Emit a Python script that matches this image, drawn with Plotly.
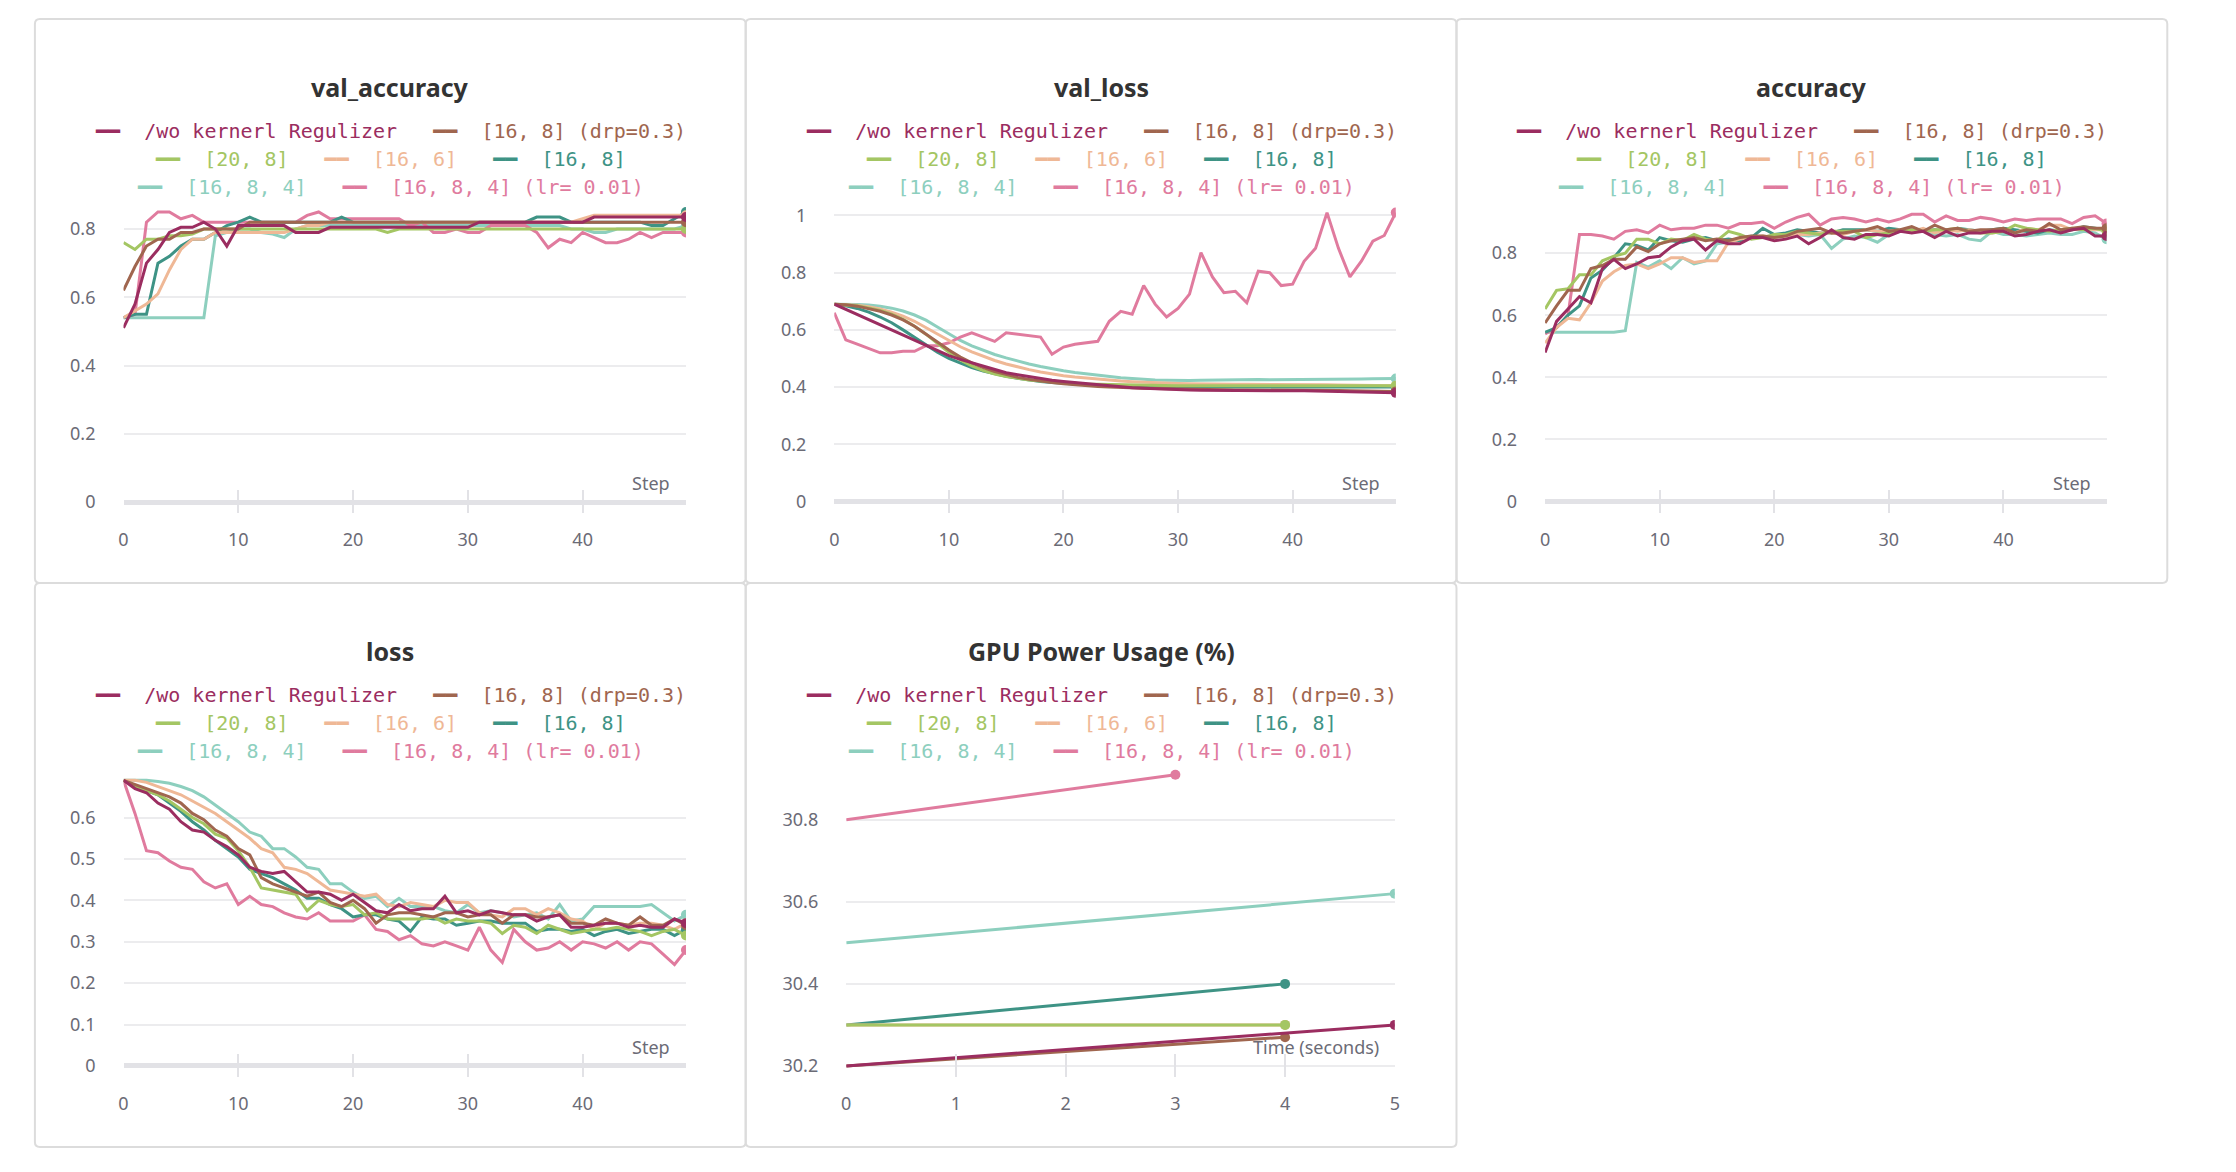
import plotly.graph_objects as go

# page body has an 8px margin, so the figure starts at (8, 8) of the window
OFF = 8
W, H = 2236 - OFF, 1172 - OFF

# ---- runs ----
names = ["/wo kernerl Regulizer", "[16, 8] (drp=0.3)", "[20, 8]", "[16, 6]",
         "[16, 8]", "[16, 8, 4]", "[16, 8, 4] (lr= 0.01)"]
colors = ["#9b2d60", "#a0664f", "#a4c663", "#efb896", "#3e9385", "#8dcfbe", "#e07b9e"]

steps = list(range(50))

# ---- val_accuracy ----
va_wo = [0.51, 0.58, 0.70, 0.74, 0.79, 0.805, 0.805, 0.82, 0.80, 0.75,
         0.81, 0.81, 0.81, 0.81, 0.81, 0.79, 0.79, 0.79, 0.805, 0.805,
         0.805, 0.805, 0.805, 0.805, 0.805, 0.805, 0.805, 0.805, 0.805, 0.805,
         0.805, 0.82, 0.82, 0.82, 0.82, 0.82, 0.82, 0.82, 0.82, 0.82,
         0.82, 0.835, 0.835, 0.835, 0.835, 0.835, 0.835, 0.835, 0.835, 0.835]
va_drp = [0.62, 0.69, 0.75, 0.77, 0.77, 0.79, 0.79, 0.80, 0.80, 0.80,
          0.80, 0.82, 0.82, 0.82, 0.82, 0.82, 0.82, 0.82, 0.82, 0.82,
          0.82, 0.82, 0.82, 0.82, 0.82, 0.82, 0.82, 0.82, 0.82, 0.82,
          0.82, 0.82, 0.82, 0.82, 0.82, 0.82, 0.82, 0.82, 0.82, 0.82,
          0.82, 0.82, 0.82, 0.82, 0.82, 0.82, 0.82, 0.82, 0.82, 0.82]
va_20_8 = [0.76, 0.74, 0.77, 0.77, 0.78, 0.78, 0.785, 0.80, 0.80, 0.80,
           0.80, 0.80, 0.80, 0.80, 0.80, 0.80, 0.80, 0.80, 0.80, 0.80,
           0.80, 0.80, 0.80, 0.79, 0.80, 0.80, 0.80, 0.80, 0.80, 0.80,
           0.80, 0.80, 0.80, 0.80, 0.80, 0.80, 0.80, 0.80, 0.80, 0.80,
           0.80, 0.80, 0.80, 0.80, 0.80, 0.80, 0.80, 0.80, 0.80, 0.80]
va_16_6 = [0.54, 0.56, 0.58, 0.61, 0.68, 0.74, 0.77, 0.77, 0.79, 0.79,
           0.79, 0.79, 0.79, 0.79, 0.79, 0.80, 0.81, 0.81, 0.82, 0.82,
           0.82, 0.82, 0.82, 0.82, 0.82, 0.82, 0.82, 0.82, 0.82, 0.82,
           0.82, 0.82, 0.82, 0.82, 0.82, 0.82, 0.82, 0.82, 0.82, 0.82,
           0.83, 0.84, 0.84, 0.84, 0.84, 0.84, 0.84, 0.84, 0.84, 0.84]
va_16_8 = [0.54, 0.55, 0.55, 0.70, 0.72, 0.75, 0.77, 0.77, 0.79, 0.81,
           0.82, 0.835, 0.82, 0.82, 0.82, 0.82, 0.82, 0.82, 0.82, 0.835,
           0.82, 0.82, 0.82, 0.82, 0.82, 0.82, 0.82, 0.82, 0.82, 0.82,
           0.82, 0.82, 0.82, 0.82, 0.82, 0.82, 0.835, 0.835, 0.835, 0.82,
           0.82, 0.82, 0.82, 0.82, 0.82, 0.82, 0.81, 0.81, 0.83, 0.85]
va_16_8_4 = [0.54, 0.54, 0.54, 0.54, 0.54, 0.54, 0.54, 0.54, 0.78, 0.79,
             0.80, 0.80, 0.79, 0.785, 0.775, 0.80, 0.81, 0.81, 0.81, 0.81,
             0.81, 0.81, 0.81, 0.81, 0.81, 0.81, 0.81, 0.81, 0.81, 0.81,
             0.81, 0.81, 0.81, 0.81, 0.81, 0.81, 0.81, 0.81, 0.81, 0.80,
             0.80, 0.79, 0.79, 0.80, 0.80, 0.80, 0.80, 0.80, 0.80, 0.81]
va_lr = [0.54, 0.55, 0.82, 0.85, 0.85, 0.83, 0.84, 0.82, 0.82, 0.82,
         0.82, 0.82, 0.82, 0.82, 0.82, 0.82, 0.84, 0.85, 0.83, 0.83,
         0.83, 0.83, 0.83, 0.83, 0.83, 0.81, 0.82, 0.79, 0.79, 0.80,
         0.79, 0.79, 0.81, 0.81, 0.81, 0.81, 0.79, 0.745, 0.77, 0.76,
         0.79, 0.775, 0.76, 0.76, 0.77, 0.79, 0.775, 0.79, 0.79, 0.79]

# ---- val_loss ----
vl_wo = [0.69, 0.672, 0.654, 0.636, 0.618, 0.60, 0.582, 0.564, 0.546, 0.528,
         0.51, 0.497, 0.485, 0.473, 0.461, 0.45, 0.443, 0.436, 0.429, 0.424,
         0.42, 0.416, 0.412, 0.408, 0.404, 0.40, 0.398, 0.396, 0.394, 0.392,
         0.39, 0.39, 0.389, 0.389, 0.389, 0.388, 0.388, 0.388, 0.388, 0.388,
         0.388, 0.387, 0.386, 0.385, 0.384, 0.383, 0.382, 0.381, 0.381, 0.38]
vl_drp = [0.69, 0.688, 0.683, 0.675, 0.665, 0.652, 0.635, 0.613, 0.587, 0.558,
          0.53, 0.505, 0.485, 0.468, 0.454, 0.443, 0.434, 0.427, 0.421, 0.416,
          0.412, 0.408, 0.405, 0.402, 0.40, 0.398, 0.397, 0.396, 0.395, 0.394,
          0.393, 0.392, 0.392, 0.391, 0.391, 0.39, 0.39, 0.39, 0.39, 0.39,
          0.389, 0.389, 0.388, 0.388, 0.388, 0.387, 0.387, 0.386, 0.386, 0.385]
vl_20_8 = [0.69, 0.688, 0.684, 0.677, 0.668, 0.655, 0.637, 0.613, 0.585, 0.553,
           0.522, 0.495, 0.474, 0.458, 0.446, 0.437, 0.43, 0.425, 0.421, 0.418,
           0.415, 0.413, 0.411, 0.41, 0.409, 0.408, 0.407, 0.407, 0.406, 0.406,
           0.405, 0.405, 0.405, 0.405, 0.405, 0.405, 0.405, 0.405, 0.405, 0.405,
           0.405, 0.405, 0.405, 0.405, 0.405, 0.405, 0.405, 0.405, 0.405, 0.405]
vl_16_6 = [0.69, 0.689, 0.686, 0.681, 0.673, 0.662, 0.648, 0.63, 0.608, 0.585,
           0.562, 0.541, 0.523, 0.507, 0.493, 0.481, 0.47, 0.461, 0.453, 0.446,
           0.44, 0.435, 0.431, 0.427, 0.424, 0.421, 0.419, 0.417, 0.415, 0.414,
           0.413, 0.412, 0.411, 0.411, 0.41, 0.41, 0.41, 0.41, 0.41, 0.41,
           0.409, 0.409, 0.408, 0.408, 0.407, 0.407, 0.406, 0.406, 0.405, 0.405]
vl_16_8 = [0.69, 0.684, 0.675, 0.662, 0.645, 0.625, 0.60, 0.574, 0.547, 0.522,
           0.50, 0.483, 0.468, 0.456, 0.446, 0.438, 0.431, 0.425, 0.42, 0.416,
           0.413, 0.41, 0.408, 0.406, 0.405, 0.404, 0.403, 0.402, 0.402, 0.401,
           0.401, 0.40, 0.40, 0.40, 0.40, 0.40, 0.40, 0.40, 0.40, 0.40,
           0.40, 0.40, 0.40, 0.40, 0.40, 0.40, 0.40, 0.40, 0.40, 0.40]
vl_16_8_4 = [0.69, 0.69, 0.689, 0.687, 0.683, 0.676, 0.666, 0.652, 0.634, 0.61,
             0.585, 0.563, 0.544, 0.528, 0.514, 0.502, 0.491, 0.481, 0.472, 0.464,
             0.457, 0.451, 0.446, 0.441, 0.437, 0.433, 0.43, 0.427, 0.425, 0.424,
             0.423, 0.423, 0.424, 0.425, 0.426, 0.426, 0.427, 0.427, 0.426, 0.426,
             0.426, 0.426, 0.427, 0.427, 0.428, 0.428, 0.428, 0.429, 0.429, 0.43]
vl_lr = [0.66, 0.565, 0.55, 0.535, 0.52, 0.52, 0.525, 0.525, 0.545, 0.545,
         0.555, 0.575, 0.59, 0.575, 0.56, 0.59, 0.585, 0.58, 0.575, 0.515,
         0.54, 0.55, 0.555, 0.56, 0.63, 0.665, 0.655, 0.755, 0.69, 0.645,
         0.675, 0.725, 0.87, 0.785, 0.73, 0.735, 0.695, 0.805, 0.80, 0.755,
         0.76, 0.84, 0.885, 1.01, 0.885, 0.785, 0.84, 0.91, 0.93, 1.01]

# ---- accuracy ----
ac_wo = [0.48, 0.58, 0.62, 0.66, 0.64, 0.75, 0.78, 0.75, 0.765, 0.785,
         0.79, 0.82, 0.84, 0.845, 0.81, 0.84, 0.83, 0.83, 0.85, 0.85,
         0.84, 0.845, 0.855, 0.83, 0.85, 0.875, 0.85, 0.845, 0.86, 0.86,
         0.855, 0.87, 0.865, 0.87, 0.85, 0.87, 0.855, 0.865, 0.865, 0.87,
         0.87, 0.855, 0.86, 0.87, 0.875, 0.865, 0.875, 0.88, 0.855, 0.855]
ac_drp = [0.575, 0.63, 0.68, 0.68, 0.75, 0.76, 0.78, 0.78, 0.82, 0.805,
          0.83, 0.84, 0.845, 0.85, 0.84, 0.845, 0.84, 0.85, 0.855, 0.855,
          0.85, 0.855, 0.87, 0.875, 0.88, 0.865, 0.865, 0.87, 0.875, 0.885,
          0.87, 0.875, 0.885, 0.87, 0.89, 0.875, 0.88, 0.87, 0.875, 0.875,
          0.88, 0.865, 0.875, 0.87, 0.895, 0.875, 0.88, 0.885, 0.88, 0.88]
ac_20_8 = [0.62, 0.68, 0.685, 0.73, 0.73, 0.775, 0.79, 0.80, 0.845, 0.845,
           0.83, 0.845, 0.84, 0.86, 0.845, 0.84, 0.87, 0.86, 0.845, 0.85,
           0.86, 0.86, 0.87, 0.865, 0.86, 0.87, 0.87, 0.87, 0.85, 0.86,
           0.865, 0.87, 0.875, 0.87, 0.875, 0.875, 0.88, 0.87, 0.865, 0.865,
           0.87, 0.89, 0.88, 0.875, 0.87, 0.875, 0.88, 0.875, 0.88, 0.87]
ac_16_6 = [0.51, 0.56, 0.59, 0.585, 0.64, 0.71, 0.74, 0.76, 0.765, 0.75,
           0.765, 0.785, 0.785, 0.77, 0.775, 0.775, 0.835, 0.845, 0.85, 0.855,
           0.85, 0.855, 0.86, 0.86, 0.865, 0.865, 0.86, 0.87, 0.875, 0.87,
           0.87, 0.875, 0.87, 0.88, 0.865, 0.875, 0.87, 0.875, 0.87, 0.865,
           0.87, 0.865, 0.88, 0.875, 0.89, 0.89, 0.875, 0.88, 0.875, 0.875]
ac_16_8 = [0.545, 0.56, 0.60, 0.63, 0.72, 0.745, 0.785, 0.83, 0.825, 0.81,
           0.85, 0.84, 0.835, 0.845, 0.85, 0.84, 0.845, 0.84, 0.85, 0.88,
           0.86, 0.865, 0.875, 0.87, 0.865, 0.865, 0.875, 0.875, 0.875, 0.87,
           0.88, 0.875, 0.87, 0.87, 0.875, 0.87, 0.88, 0.875, 0.87, 0.875,
           0.88, 0.875, 0.87, 0.865, 0.875, 0.87, 0.875, 0.885, 0.88, 0.875]
ac_16_8_4 = [0.545, 0.545, 0.545, 0.545, 0.545, 0.545, 0.545, 0.55, 0.77, 0.755,
             0.775, 0.75, 0.785, 0.765, 0.775, 0.83, 0.835, 0.845, 0.855, 0.85,
             0.85, 0.86, 0.86, 0.855, 0.86, 0.815, 0.845, 0.855, 0.85, 0.835,
             0.86, 0.87, 0.875, 0.87, 0.86, 0.855, 0.86, 0.845, 0.84, 0.87,
             0.86, 0.86, 0.855, 0.86, 0.865, 0.86, 0.86, 0.87, 0.865, 0.845]
ac_lr = [0.54, 0.56, 0.60, 0.86, 0.86, 0.855, 0.845, 0.87, 0.875, 0.865,
         0.89, 0.875, 0.88, 0.88, 0.89, 0.89, 0.88, 0.895, 0.895, 0.90,
         0.88, 0.90, 0.915, 0.925, 0.89, 0.91, 0.915, 0.91, 0.90, 0.91,
         0.90, 0.91, 0.925, 0.925, 0.90, 0.92, 0.905, 0.905, 0.915, 0.91,
         0.90, 0.91, 0.905, 0.91, 0.91, 0.91, 0.895, 0.915, 0.92, 0.895]

# ---- loss ----
lo_wo = [0.69, 0.67, 0.66, 0.635, 0.62, 0.59, 0.57, 0.565, 0.545, 0.53,
         0.51, 0.48, 0.47, 0.465, 0.47, 0.445, 0.42, 0.42, 0.415, 0.40,
         0.415, 0.395, 0.375, 0.37, 0.39, 0.375, 0.38, 0.38, 0.41, 0.37,
         0.375, 0.365, 0.375, 0.37, 0.365, 0.365, 0.35, 0.36, 0.365, 0.335,
         0.335, 0.34, 0.345, 0.345, 0.335, 0.34, 0.335, 0.335, 0.355, 0.345]
lo_drp = [0.69, 0.68, 0.67, 0.66, 0.65, 0.635, 0.61, 0.595, 0.57, 0.555,
          0.525, 0.51, 0.455, 0.44, 0.43, 0.42, 0.41, 0.42, 0.395, 0.385,
          0.40, 0.38, 0.345, 0.365, 0.37, 0.37, 0.365, 0.36, 0.37, 0.37,
          0.36, 0.365, 0.365, 0.345, 0.365, 0.365, 0.36, 0.36, 0.365, 0.345,
          0.345, 0.34, 0.355, 0.345, 0.34, 0.36, 0.34, 0.34, 0.355, 0.34]
lo_20_8 = [0.69, 0.675, 0.665, 0.655, 0.64, 0.62, 0.60, 0.585, 0.56, 0.55,
           0.52, 0.48, 0.43, 0.425, 0.42, 0.415, 0.375, 0.40, 0.39, 0.385,
           0.39, 0.365, 0.37, 0.355, 0.355, 0.355, 0.355, 0.36, 0.345, 0.355,
           0.35, 0.35, 0.345, 0.32, 0.34, 0.335, 0.32, 0.34, 0.33, 0.32,
           0.325, 0.33, 0.33, 0.335, 0.33, 0.325, 0.315, 0.325, 0.33, 0.315]
lo_16_6 = [0.69, 0.69, 0.685, 0.675, 0.665, 0.655, 0.64, 0.625, 0.61, 0.59,
           0.57, 0.55, 0.525, 0.515, 0.48, 0.475, 0.465, 0.445, 0.425, 0.42,
           0.415, 0.41, 0.415, 0.39, 0.385, 0.395, 0.39, 0.385, 0.40, 0.395,
           0.395, 0.37, 0.365, 0.36, 0.38, 0.38, 0.365, 0.38, 0.37, 0.355,
           0.35, 0.33, 0.345, 0.345, 0.34, 0.345, 0.345, 0.34, 0.33, 0.345]
lo_16_8 = [0.69, 0.675, 0.665, 0.655, 0.635, 0.615, 0.59, 0.57, 0.545, 0.525,
           0.505, 0.475, 0.465, 0.455, 0.44, 0.425, 0.405, 0.405, 0.39, 0.38,
           0.36, 0.365, 0.365, 0.355, 0.35, 0.325, 0.36, 0.355, 0.355, 0.34,
           0.345, 0.35, 0.35, 0.345, 0.345, 0.345, 0.325, 0.33, 0.33, 0.325,
           0.33, 0.315, 0.325, 0.33, 0.32, 0.325, 0.33, 0.33, 0.315, 0.33]
lo_16_8_4 = [0.69, 0.69, 0.69, 0.687, 0.683, 0.675, 0.665, 0.65, 0.63, 0.61,
             0.59, 0.565, 0.555, 0.525, 0.525, 0.505, 0.48, 0.475, 0.44, 0.44,
             0.42, 0.405, 0.41, 0.385, 0.405, 0.385, 0.385, 0.385, 0.375, 0.37,
             0.39, 0.37, 0.375, 0.37, 0.36, 0.365, 0.37, 0.355, 0.39, 0.35,
             0.355, 0.385, 0.385, 0.385, 0.385, 0.385, 0.39, 0.37, 0.35, 0.365]
lo_lr = [0.69, 0.61, 0.52, 0.515, 0.495, 0.48, 0.475, 0.445, 0.43, 0.44,
         0.39, 0.41, 0.39, 0.385, 0.37, 0.36, 0.355, 0.37, 0.35, 0.35,
         0.35, 0.365, 0.33, 0.325, 0.305, 0.315, 0.295, 0.29, 0.30, 0.29,
         0.28, 0.335, 0.28, 0.25, 0.33, 0.30, 0.28, 0.285, 0.30, 0.28,
         0.30, 0.295, 0.285, 0.30, 0.28, 0.30, 0.295, 0.27, 0.245, 0.28]

# ---- GPU Power Usage (%) ----
gpu_t_wo, gpu_wo = [0, 5], [30.2, 30.3]
gpu_t_drp, gpu_drp = [0, 4], [30.2, 30.27]
gpu_t_20_8, gpu_20_8 = [0, 4], [30.3, 30.3]
gpu_t_16_6, gpu_16_6 = [0, 4], [30.3, 30.3]
gpu_t_16_8, gpu_16_8 = [0, 4], [30.3, 30.4]
gpu_t_16_8_4, gpu_16_8_4 = [0, 5], [30.5, 30.62]
gpu_t_lr, gpu_lr = [0, 3], [30.8, 30.91]

panels = [
    ("val_accuracy", [(steps, v) for v in [va_wo, va_drp, va_20_8, va_16_6, va_16_8, va_16_8_4, va_lr]]),
    ("val_loss", [(steps, v) for v in [vl_wo, vl_drp, vl_20_8, vl_16_6, vl_16_8, vl_16_8_4, vl_lr]]),
    ("accuracy", [(steps, v) for v in [ac_wo, ac_drp, ac_20_8, ac_16_6, ac_16_8, ac_16_8_4, ac_lr]]),
    ("loss", [(steps, v) for v in [lo_wo, lo_drp, lo_20_8, lo_16_6, lo_16_8, lo_16_8_4, lo_lr]]),
    ("GPU Power Usage (%)", [(gpu_t_wo, gpu_wo), (gpu_t_drp, gpu_drp), (gpu_t_20_8, gpu_20_8),
                             (gpu_t_16_6, gpu_16_6), (gpu_t_16_8, gpu_16_8),
                             (gpu_t_16_8_4, gpu_16_8_4), (gpu_t_lr, gpu_lr)]),
]

# layout in window pixels: card box, plot x span, y range, dtick, x axis label
card_w, card_h = 714, 564
cards = [(30, 19), (744, 19), (1458, 19), (30, 583), (744, 583)]
plot_x = [(119, 684), (833, 1397), (1547, 2111), (119, 684), (845, 1396)]
y_ranges = [(-0.0322, 0.885), (-0.040, 1.054), (-0.037, 0.971), (-0.0266, 0.698), (30.173, 30.936)]
y_dticks = [0.2, 0.2, 0.2, 0.1, 0.2]
x_ranges = [(0, 49), (0, 49), (0, 49), (0, 49), (0, 5)]
x_dticks = [10, 10, 10, 10, 1]
x_labels = ["Step", "Step", "Step", "Step", "Time (seconds)"]
row_top = [200, 200, 200, 777, 764]
row_bot = [513, 513, 513, 1077, 1077]

draw_order = [5, 6, 4, 3, 2, 1, 0]
legend_rows = [[0, 1], [2, 3, 4], [5, 6]]

TICK = "#6b6b76"
GRID = "#ececee"
AXIS = "#e2e2e6"


def fx(v):
    return (v - OFF) / W


def fy(v):
    return 1 - (v - OFF) / H


def card_path(x0, y0, x1, y1, r=5):
    pts = [("M", x0 + r, y0), ("L", x1 - r, y0), ("Q", x1, y0, x1, y0 + r),
           ("L", x1, y1 - r), ("Q", x1, y1, x1 - r, y1), ("L", x0 + r, y1),
           ("Q", x0, y1, x0, y1 - r), ("L", x0, y0 + r), ("Q", x0, y0, x0 + r, y0)]
    out = []
    for seg in pts:
        cmd, vals = seg[0], seg[1:]
        coords = []
        for k in range(0, len(vals), 2):
            coords.append("%.6f,%.6f" % (fx(vals[k]), fy(vals[k + 1])))
        out.append(cmd + " ".join(coords))
    return " ".join(out) + " Z"


fig = go.Figure()
annotations = []
shapes = []

for p, (title, series) in enumerate(panels):
    sfx = "" if p == 0 else str(p + 1)
    xa, ya = "x" + sfx, "y" + sfx
    for i in draw_order:
        xs, ys = series[i]
        fig.add_trace(go.Scatter(x=xs, y=ys, mode="lines", name=names[i],
                                 line=dict(color=colors[i], width=3),
                                 xaxis=xa, yaxis=ya, showlegend=False, hoverinfo="skip"))
        fig.add_trace(go.Scatter(x=xs[-1:], y=ys[-1:], mode="markers",
                                 marker=dict(color=colors[i], size=10),
                                 xaxis=xa, yaxis=ya, showlegend=False, hoverinfo="skip"))

    x0, x1 = plot_x[p]
    is_gpu = p == 4
    fig.update_layout(**{
        "xaxis" + sfx: dict(
            domain=[fx(x0), fx(x1)], anchor=ya, range=list(x_ranges[p]),
            dtick=x_dticks[p], tick0=0, showgrid=False, zeroline=False, showline=False,
            ticks="inside", ticklen=23, tickwidth=2, tickcolor=AXIS,
            ticklabelstandoff=14, tickfont=dict(family="Noto Sans", size=18, color=TICK)),
        "yaxis" + sfx: dict(
            domain=[fy(row_bot[p]), fy(row_top[p])], anchor=xa,
            range=list(y_ranges[p]), dtick=y_dticks[p],
            tick0=30.2 if is_gpu else 0, tickformat=".1f" if is_gpu else None,
            showgrid=True, gridcolor=GRID, gridwidth=1.5,
            zeroline=not is_gpu, zerolinecolor=AXIS, zerolinewidth=5,
            showline=False, ticks="", ticklabelstandoff=27,
            tickfont=dict(family="Noto Sans", size=18, color=TICK)),
    })

    cx, cy = cards[p]
    mid = fx(cx + card_w / 2)
    shapes.append(dict(type="path", xref="paper", yref="paper",
                       path=card_path(cx, cy, cx + card_w, cy + card_h),
                       line=dict(color="#dcdcdc", width=2), layer="below"))
    off = cy - 19
    annotations.append(dict(text="<b>%s</b>" % title, xref="paper", yref="paper",
                            x=mid, y=fy(87 + off), showarrow=False,
                            xanchor="center", yanchor="middle",
                            font=dict(family="Noto Sans", size=25, color="#333333")))
    for r, row in enumerate(legend_rows):
        parts = []
        for i in row:
            parts.append('<span style="color:%s">━━</span>  <span style="color:%s">%s</span>'
                         % (colors[i], colors[i], names[i]))
        annotations.append(dict(text="   ".join(parts), xref="paper", yref="paper",
                                x=mid, y=fy(131 + 28 * r + off), showarrow=False,
                                xanchor="center", yanchor="middle",
                                font=dict(family="DejaVu Sans Mono", size=20)))
    annotations.append(dict(text=x_labels[p], xref=xa + " domain", yref=ya + " domain",
                            x=1, y=0, xanchor="right", yanchor="middle",
                            xshift=-14, yshift=30, showarrow=False,
                            font=dict(family="Noto Sans", size=18, color=TICK)))

fig.update_layout(width=W, height=H, margin=dict(l=0, r=0, t=0, b=0),
                  paper_bgcolor="white", plot_bgcolor="white",
                  annotations=annotations, shapes=shapes)

fig.write_html("out.html")
